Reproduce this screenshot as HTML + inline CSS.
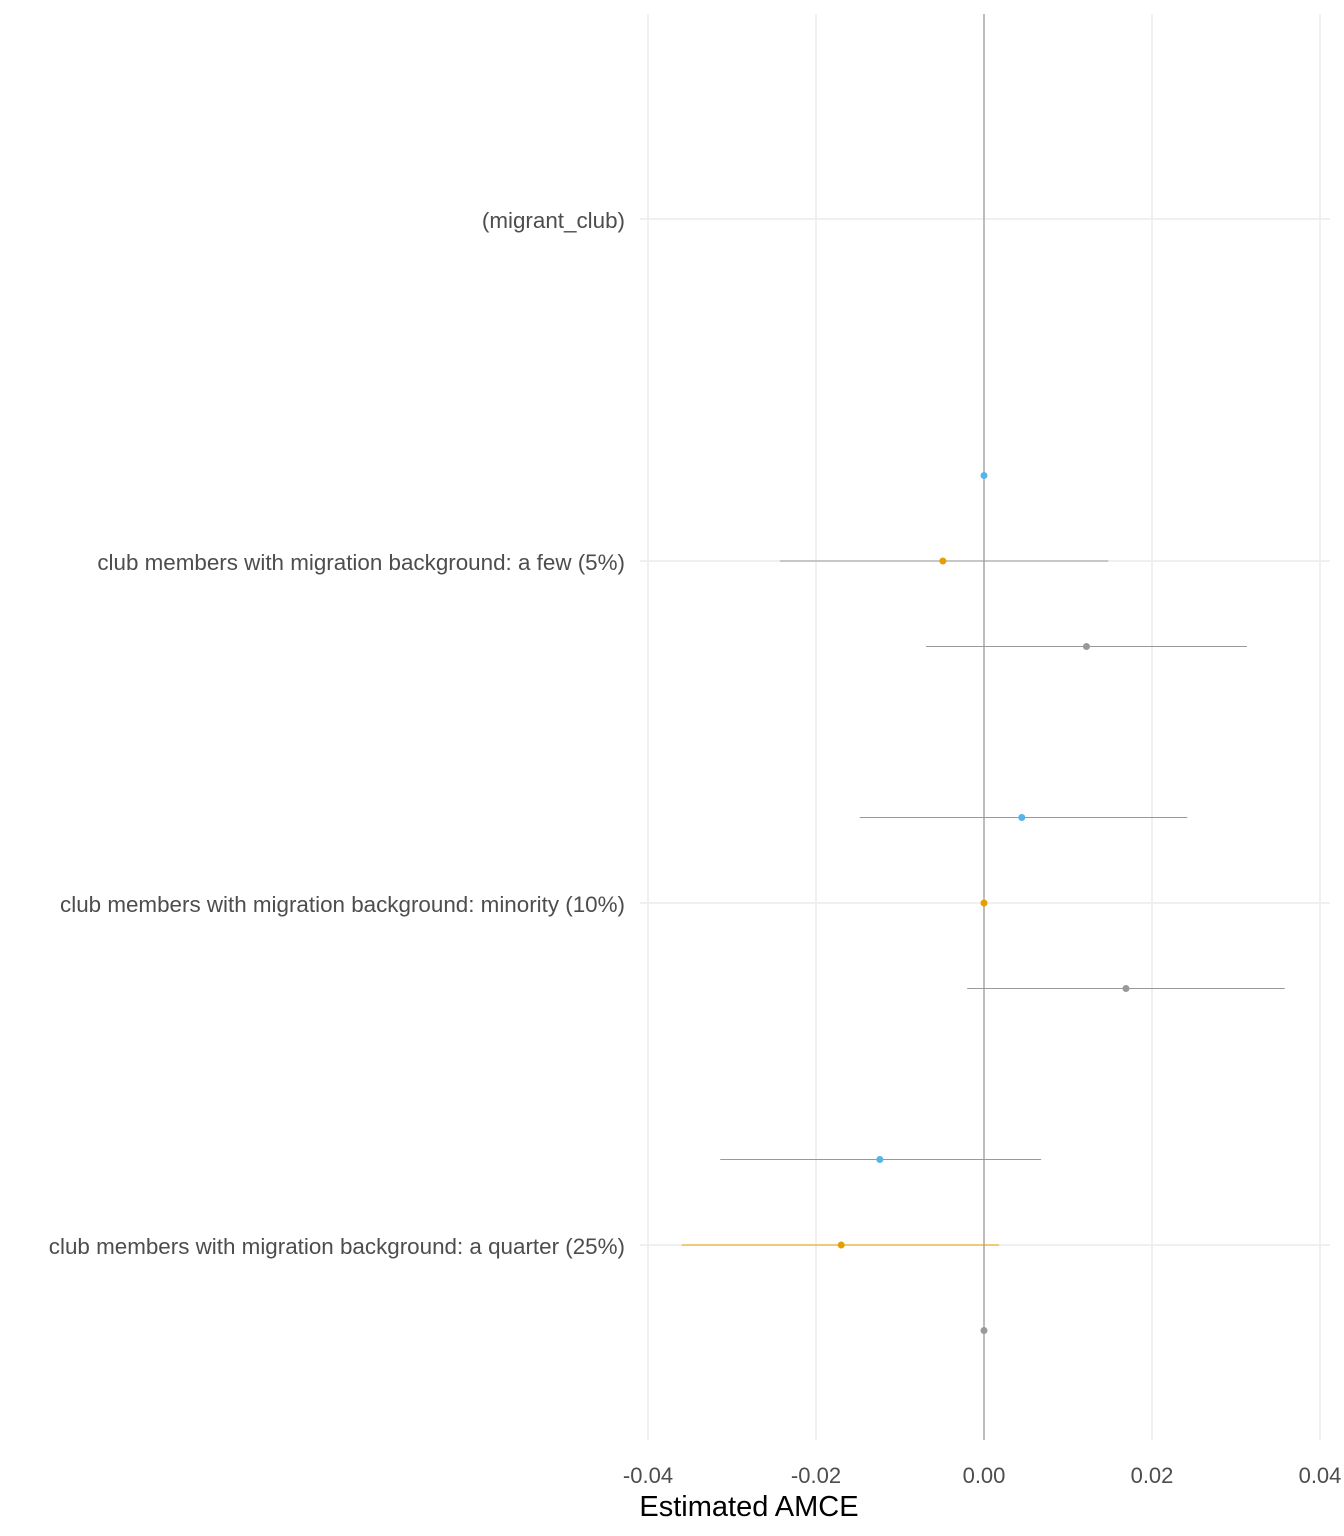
<!DOCTYPE html>
<html><head><meta charset="utf-8">
<style>
html,body{margin:0;padding:0;background:#fff;}
svg{display:block;font-family:"Liberation Sans",sans-serif;}
</style></head>
<body>
<svg id="chart" width="1344" height="1536" viewBox="0 0 1344 1536" xmlns="http://www.w3.org/2000/svg">
<g id="grid"></g>
<g id="marks"></g>
<g id="labels"></g>
<text x="749" y="1516" font-size="29" text-anchor="middle" fill="#000">Estimated AMCE</text>
</svg>
<script>
const categories = ["(migrant_club)","club members with migration background: a few (5%)","club members with migration background: minority (10%)","club members with migration background: a quarter (25%)"];
const xTicks = [-0.04,-0.02,0,0.02,0.04];
const xTickLabels = ["-0.04","-0.02","0.00","0.02","0.04"];
const seriesColors = ["#56B4E9","#E69F00","#999999"];
const blueEst = [null, 0, 0.0045, -0.0124];
const blueLo  = [null, 0, -0.0148, -0.0314];
const blueHi  = [null, 0, 0.0242, 0.0068];
const orangeEst = [null, -0.0049, 0, -0.0170];
const orangeLo  = [null, -0.0243, 0, -0.0360];
const orangeHi  = [null, 0.0148, 0, 0.0018];
const grayEst = [null, 0.0122, 0.0169, 0];
const grayLo  = [null, -0.0069, -0.0020, 0];
const grayHi  = [null, 0.0313, 0.0358, 0];

const NS="http://www.w3.org/2000/svg";
const xScale = v => 984 + v*8400;
const yScale = i => 219 + i*342;
const offsets = [-85.5, 0, 85.5];
function mk(tag, attrs, parent){const e=document.createElementNS(NS,tag);for(const k in attrs)e.setAttribute(k,attrs[k]);parent.appendChild(e);return e;}
const grid=document.getElementById('grid'), marks=document.getElementById('marks'), labels=document.getElementById('labels');

xTicks.forEach((t,i)=>{
  const g=mk('line',{x1:xScale(t),x2:xScale(t),y1:14,y2:1440,stroke:'#ebebeb','stroke-width':1.5},grid);
  
  
  const tx=mk('text',{x:xScale(t),y:1483,'font-size':22,'text-anchor':'middle',fill:'#4d4d4d'},labels);
  tx.textContent=xTickLabels[i];
  
  
});
categories.forEach((c,i)=>{
  const g=mk('line',{x1:640,x2:1330,y1:yScale(i),y2:yScale(i),stroke:'#ebebeb','stroke-width':1.5},grid);
  
  
  const tx=mk('text',{x:625,y:yScale(i)+9,'font-size':22.4,'text-anchor':'end',fill:'#4d4d4d'},labels);
  tx.textContent=c;
  
  
});
const zl=mk('line',{x1:xScale(0),x2:xScale(0),y1:14,y2:1440,stroke:'#9e9e9e','stroke-width':1.3},grid);



const series=[[blueEst,blueLo,blueHi],[orangeEst,orangeLo,orangeHi],[grayEst,grayLo,grayHi]];
series.forEach((s,si)=>{
  s[0].forEach((v,i)=>{
    if(v===null)return;
    const y=yScale(i)+offsets[si];
    const lineColor = (si===1 && i===3) ? '#E69F00' : '#999999';
    const l=mk('line',{x1:xScale(s[1][i]),x2:xScale(s[2][i]),y1:y,y2:y,stroke:lineColor,'stroke-width':1.1},marks);
    
    
    const p=mk('circle',{cx:xScale(v),cy:y,r:3.5,fill:seriesColors[si]},marks);
    
    
  });
});
</script>
</body></html>
